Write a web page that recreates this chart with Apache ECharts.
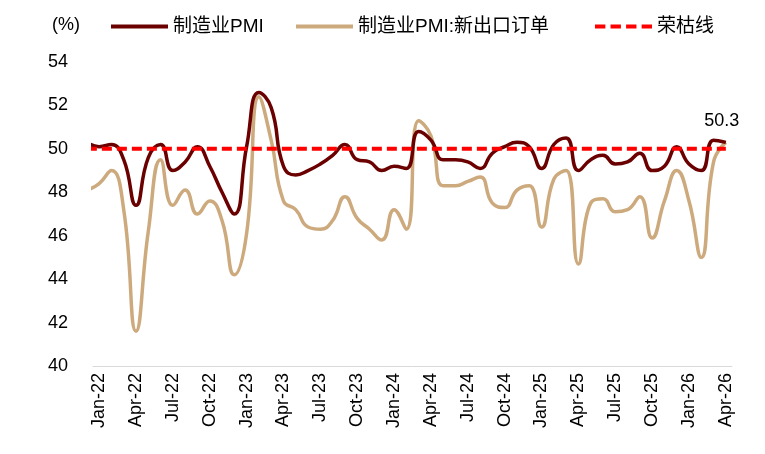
<!DOCTYPE html>
<html>
<head>
<meta charset="utf-8">
<script src="https://cdn.jsdelivr.net/npm/echarts@6/dist/echarts.min.js"></script>
<style>
  html, body { margin: 0; padding: 0; background: #fff; }
  #main { width: 765px; height: 454px; }
</style>
</head>
<body>
<div id="main"></div>
<script>
// 月份: Jan-22 ~ Apr-26
const monthNames = ['Jan', 'Feb', 'Mar', 'Apr', 'May', 'Jun', 'Jul', 'Aug', 'Sep', 'Oct', 'Nov', 'Dec']
const years = ['22', '23', '24', '25', '26']
const months = []
years.forEach(y => monthNames.forEach(m => months.push(m + '-' + y)))
months.length = 52

// 图左边缘前一个月 (Dec-21) 的值, 线从图外延伸进来
const pmiPrev = 50.3
const exportPrev = 48.1

// 制造业PMI
const pmi = [
  50.1, 50.2, 49.5, 47.4, 49.6, 50.2, 49.0, 49.4, 50.1, 49.2, 48.0, 47.0,
  50.1, 52.6, 51.9, 49.2, 48.8, 49.0, 49.3, 49.7, 50.2, 49.5, 49.4, 49.0,
  49.2, 49.1, 50.8, 50.4, 49.5, 49.5, 49.4, 49.1, 49.8, 50.1, 50.3, 50.1,
  49.1, 50.2, 50.5, 49.0, 49.5, 49.7, 49.3, 49.4, 49.8, 49.0, 49.2, 50.1,
  49.3, 49.0, 50.4, 50.3
]
// 制造业PMI:新出口订单
const exportOrders = [
  48.4, 49.0, 47.2, 41.6, 46.2, 49.5, 47.4, 48.1, 47.0, 47.6, 46.7, 44.2,
  46.1, 52.4, 50.4, 47.6, 47.2, 46.4, 46.3, 46.7, 47.8, 46.8, 46.3, 45.8,
  47.2, 46.3, 51.3, 50.6, 48.3, 48.3, 48.5, 48.7, 47.5, 47.3, 48.1, 48.3,
  46.4, 48.6, 49.0, 44.7, 47.5, 47.7, 47.1, 47.2, 47.8, 45.9, 47.6, 49.0,
  47.6, 45.0, 49.4, 50.3
]
// 荣枯线
const threshold = 50
const yTicks = [40, 42, 44, 46, 48, 50, 52, 54]

const font = 'Arial, "Liberation Sans", "Noto Sans CJK SC", sans-serif'
const colorArr = ['#6B0000', '#CDAA7D', '#FF0000']

function toPoints(prev, arr) {
  let pts = [[-1, prev]]
  arr.forEach((v, i) => pts.push([i, v]))
  return pts
}

const chart = echarts.init(document.getElementById('main'))
const last = pmi[pmi.length - 1]

// 图例线条图标
const solidIcon = 'path://M0,0h56v4h-56z'
const dashIcon = 'path://M0,0h10v4h-10z M15,0h10v4h-10z M30,0h10v4h-10z M45,0h10v4h-10z'

const legendBase = {
  top: 12,
  itemWidth: 57,
  itemHeight: 4.5,
  itemGap: 30,
  textStyle: { fontSize: 19, color: '#000', fontFamily: font }
}

let option = {
  animation: false,
  textStyle: { fontFamily: font },
  title: {
    text: '(%)',
    left: 47,
    top: 11,
    textStyle: { fontSize: 18, fontWeight: 'normal', color: '#000', fontFamily: font }
  },
  legend: [
    Object.assign({ left: 106, data: [{ name: '制造业PMI', icon: solidIcon }] }, legendBase),
    Object.assign({ left: 291, data: [{ name: '制造业PMI:新出口订单', icon: solidIcon }] }, legendBase),
    Object.assign({ left: 590, data: [{ name: '荣枯线', icon: dashIcon }] }, legendBase)
  ],
  grid: {
    left: 93,
    right: 33,
    top: 62,
    bottom: 88
  },
  xAxis: [
    {
      type: 'category',
      data: months,
      boundaryGap: true,
      axisLine: { lineStyle: { color: '#D9D9D9', width: 1 } },
      axisTick: { interval: 2, length: 6, lineStyle: { color: '#D9D9D9' } },
      axisLabel: {
        interval: 2,
        rotate: 90,
        margin: 7,
        fontSize: 18,
        color: '#000',
        fontFamily: font
      },
      splitLine: { show: false }
    },
    {
      type: 'value',
      min: -0.5,
      max: months.length - 0.5,
      show: false
    }
  ],
  yAxis: {
    type: 'value',
    min: yTicks[0],
    max: yTicks[yTicks.length - 1],
    interval: 2,
    axisLine: { show: false },
    axisTick: { show: false },
    splitLine: { show: false },
    axisLabel: { fontSize: 18, color: '#000', margin: 25, fontFamily: font }
  },
  series: [
    {
      name: '制造业PMI:新出口订单',
      type: 'line',
      xAxisIndex: 1,
      data: toPoints(exportPrev, exportOrders),
      smooth: 0.5,
      symbol: 'none',
      lineStyle: { color: colorArr[1], width: 3.5 },
      itemStyle: { color: colorArr[1] },
      z: 2
    },
    {
      name: '制造业PMI',
      type: 'line',
      xAxisIndex: 1,
      data: toPoints(pmiPrev, pmi),
      smooth: 0.5,
      symbol: 'none',
      lineStyle: { color: colorArr[0], width: 3.5 },
      itemStyle: { color: colorArr[0] },
      z: 3,
      markPoint: {
        symbol: 'circle',
        symbolSize: 0,
        data: [{ coord: [pmi.length - 1, last], value: last }],
        label: {
          show: true,
          position: 'top',
          distance: 12,
          offset: [-4, 0],
          fontSize: 18,
          color: '#000',
          fontFamily: font,
          formatter: p => p.value.toFixed(1)
        }
      }
    },
    {
      name: '荣枯线',
      type: 'line',
      xAxisIndex: 1,
      data: [[-1, threshold], [months.length - 1, threshold]],
      symbol: 'none',
      lineStyle: { color: colorArr[2], width: 4, type: [10, 5] },
      itemStyle: { color: colorArr[2] },
      z: 4
    }
  ]
}
chart.setOption(option)
</script>
</body>
</html>
